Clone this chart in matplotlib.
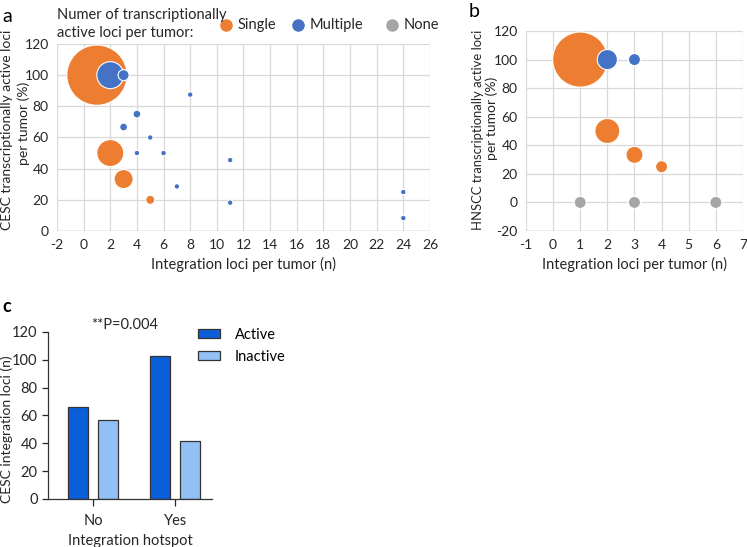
import numpy as np
import matplotlib
matplotlib.use("Agg")
import matplotlib.pyplot as plt

plt.rcParams['font.family'] = ['Lato', 'DejaVu Sans']
plt.rcParams['axes.unicode_minus'] = False

# Panel a: CESC bubbles (x = loci per tumor, y = % active, n = tumors)
a_single_x = [1, 2, 3, 5]
a_single_y = [100, 50, 33.3, 20]
a_single_n = [120, 24, 12, 2.7]
a_multi_x = [2, 3, 8, 4, 3, 5, 4, 6, 11, 7, 11, 24, 24]
a_multi_y = [100, 100, 87.5, 75, 66.7, 60, 50, 50, 45.5, 28.6, 18.2, 25, 8.3]
a_multi_n = [24, 4, 1, 2, 2, 1, 1, 1, 1, 1, 1, 1, 1]

# Panel b: HNSCC bubbles
b_single_x = [1, 2, 3, 4]
b_single_y = [100, 50, 33.3, 25]
b_single_n = [21, 4.3, 2, 1]
b_multi_x = [2, 3]
b_multi_y = [100, 100]
b_multi_n = [2.8, 1]
b_none_x = [1, 3, 6]
b_none_y = [0, 0, 0]
b_none_n = [1, 1, 1]

# Panel c: bars
c_cats = ['No', 'Yes']
c_active = [66, 103]
c_inactive = [57, 42]

orange = '#ED7D31'
blue = '#4472C4'
gray = '#A5A5A5'
gridc = '#D9D9D9'
txt = '#262626'
W, H = 747, 547

fig = plt.figure(figsize=(7.47, 5.47), dpi=100)


def excel_axes(ax):
    for s in ax.spines.values():
        s.set_visible(False)
    ax.grid(True, color=gridc, lw=0.9)
    ax.set_axisbelow(True)
    ax.tick_params(length=0, labelsize=10, colors=txt, pad=6)


def side_label(xc, ystart, s, fs=10):
    # one rotated line, text starts at ystart (pixel coords from top-left)
    fig.text(xc / W, 1 - ystart / H, s, rotation=90, rotation_mode='anchor',
             ha='left', va='center', fontsize=fs, color=txt)


# ---- panel a ----
ax = fig.add_axes([0.0763, 0.5777, 0.4993, 0.3419])
excel_axes(ax)
ka = 15.7
ax.scatter(a_single_x, a_single_y, s=np.array(a_single_n) * ka, color=orange,
           edgecolor='white', lw=0.8, zorder=3)
ax.scatter(a_multi_x, a_multi_y, s=np.array(a_multi_n) * ka, color=blue,
           edgecolor='white', lw=0.8, zorder=4)
ax.set_xlim(-2, 26)
ax.set_ylim(0, 120)
ax.set_xticks(np.arange(-2, 27, 2))
ax.set_yticks(np.arange(0, 121, 20))
ax.axhline(0, color='#BFBFBF', lw=1, zorder=2)
ax.set_xlabel('Integration loci per tumor (n)', fontsize=10.5, color=txt)
side_label(7, 230, 'CESC transcriptionally active loci')
side_label(24, 165, 'per tumor (%)')

# legend on top
fig.text(0.0763, 0.985, 'Numer of transcriptionally\nactive loci per tumor:',
         fontsize=10.5, color=txt, va='top', ha='left', linespacing=1.35)
for xm, lab, c in [(226, 'Single', orange), (298, 'Multiple', blue), (392, 'None', gray)]:
    fig.lines.append(plt.Line2D([xm / W], [1 - 25 / H], marker='o', ms=8,
                                color=c, mec=c, ls='', transform=fig.transFigure))
    fig.text((xm + 12) / W, 1 - 25 / H, lab, fontsize=10.5, color=txt,
             va='center', ha='left')

fig.text(0.003, 0.985, 'a', fontsize=14, va='top', ha='left')

# ---- panel b ----
ax = fig.add_axes([0.7041, 0.5777, 0.2905, 0.3656])
excel_axes(ax)
kb = 75
ax.scatter(b_single_x, b_single_y, s=np.array(b_single_n) * kb, color=orange,
           edgecolor='white', lw=0.8, zorder=3)
ax.scatter(b_multi_x, b_multi_y, s=np.array(b_multi_n) * kb, color=blue,
           edgecolor='white', lw=0.8, zorder=4)
ax.scatter(b_none_x, b_none_y, s=np.array(b_none_n) * kb, color=gray,
           edgecolor='white', lw=0.8, zorder=4)
ax.set_xlim(-1, 7)
ax.set_ylim(-20, 120)
ax.set_xticks(np.arange(-1, 8, 1))
ax.set_yticks(np.arange(-20, 121, 20))
ax.axhline(-20, color='#BFBFBF', lw=1, zorder=2)
ax.set_xlabel('Integration loci per tumor (n)', fontsize=10.5, color=txt)
side_label(478, 230, 'HNSCC transcriptionally active loci', fs=9.4)
side_label(492, 160, 'per tumor (%)')
fig.text(0.627, 0.995, 'b', fontsize=14, va='top', ha='left')

# ---- panel c ----
ax = fig.add_axes([0.0643, 0.0878, 0.2195, 0.3053])
x = np.arange(len(c_cats))
w = 0.244
ax.bar(x - 0.183, c_active, w, color='#0A5FD8', edgecolor='#333333', lw=0.9,
       label='Active')
ax.bar(x + 0.183, c_inactive, w, color='#92C0F5', edgecolor='#333333', lw=0.9,
       label='Inactive')
ax.set_xlim(-0.55, 1.45)
ax.set_ylim(0, 120)
ax.set_yticks(np.arange(0, 121, 20))
ax.set_xticks(x)
ax.set_xticklabels(c_cats)
for s in ['top', 'right']:
    ax.spines[s].set_visible(False)
for s in ['left', 'bottom']:
    ax.spines[s].set_color('#333333')
    ax.spines[s].set_linewidth(0.9)
ax.tick_params(labelsize=10.5, colors=txt, length=4, width=0.9)
ax.tick_params(axis='x', length=5, pad=6)
ax.set_xlabel('Integration hotspot', fontsize=10.5, color=txt)
side_label(7, 503, 'CESC integration loci (n)')
ax.text(0.39, 125, '**P=0.004', fontsize=10.5, ha='center', va='center', color=txt)
ax.legend(loc='upper left', bbox_to_anchor=(0.88, 1.06), frameon=False,
          fontsize=10.5, handlelength=1.5, handleheight=0.62, handletextpad=1.0,
          labelspacing=0.55, borderaxespad=0.0)
fig.text(0.003, 0.455, 'c', fontsize=13, fontweight='bold', va='top', ha='left')

fig.savefig('out.png', dpi=100)
